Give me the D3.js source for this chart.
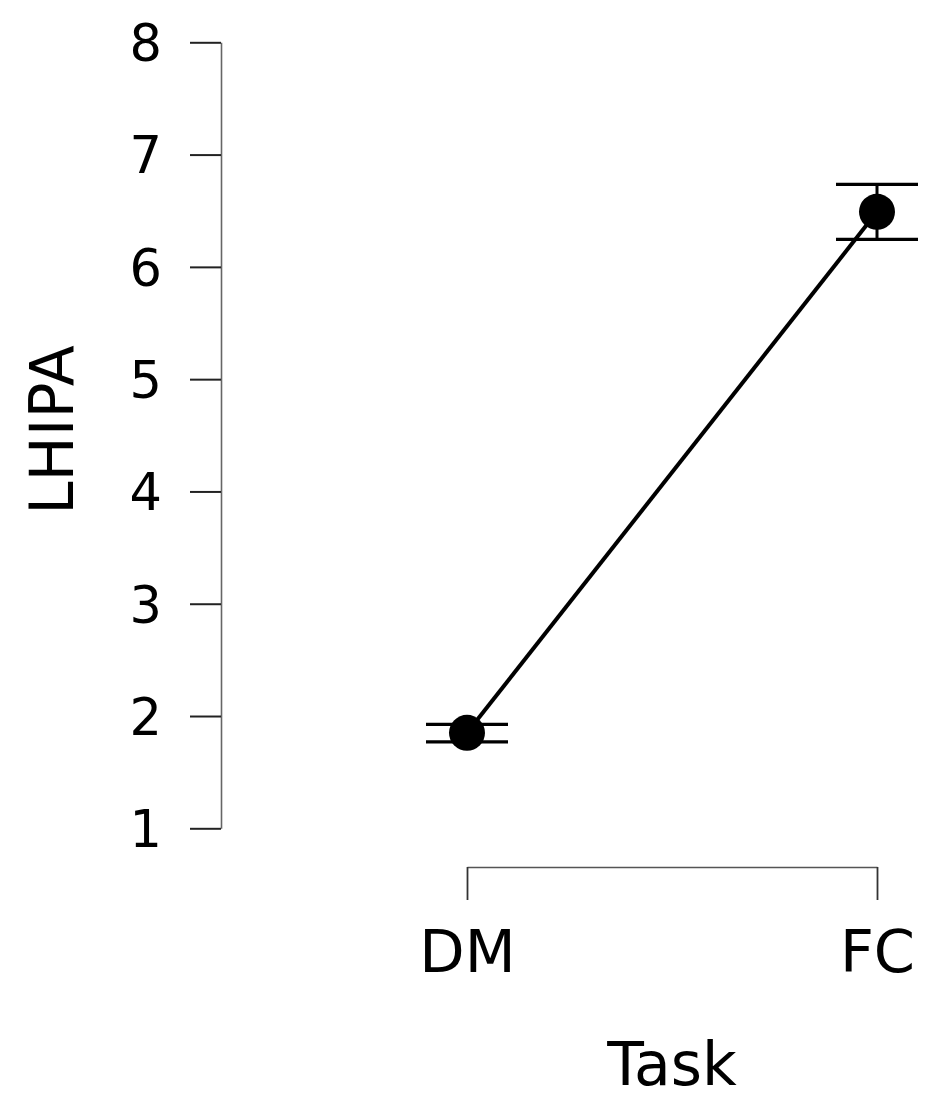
<!DOCTYPE html>
<html>
<head>
<meta charset="utf-8">
<script src="https://cdn.jsdelivr.net/npm/d3@7"></script>
<style>
  body { margin: 0; background: #fff; }
  text { font-family: "DejaVu Sans", sans-serif; fill: #000; }
</style>
</head>
<body>
<div id="chart"></div>
<script>
// data
var tasks = ["DM", "FC"];
var means = [1.85, 6.49];
var lower = [1.77, 6.245];
var upper = [1.926, 6.735];
var yTicks = [1, 2, 3, 4, 5, 6, 7, 8];

var svgWidth = 937;
var svgHeight = 1108;

var svg = d3.select("#chart")
  .append("svg")
  .attr("width", svgWidth)
  .attr("height", svgHeight);

var x = d3.scalePoint()
  .domain(tasks)
  .range([467, 877]);

var y = d3.scaleLinear()
  .domain([1, 8])
  .range([828.3, 42.3]);

// y axis
var yAxis = svg.append("g")
  .attr("transform", "translate(221,0)")
  .call(d3.axisLeft(y)
    .tickValues(yTicks)
    .tickFormat(d3.format("d"))
    .tickSize(31)
    .tickSizeOuter(0)
    .tickPadding(28));

yAxis.select(".domain").attr("stroke", "#666").attr("stroke-width", 1.6);
yAxis.selectAll(".tick line").attr("stroke", "#222").attr("stroke-width", 2);
yAxis.selectAll(".tick text")
  .style("font-size", "51px")
  .attr("dy", "0.36em");

// x axis bracket
var xAxis = svg.append("g")
  .attr("transform", "translate(0,867)")
  .call(d3.axisBottom(x).tickSize(33).tickSizeOuter(0));

xAxis.select(".domain").attr("stroke", "#555").attr("stroke-width", 1.6);
xAxis.selectAll(".tick line").attr("stroke", "#333").attr("stroke-width", 1.8);
xAxis.selectAll(".tick text")
  .style("font-size", "59px")
  .attr("y", 105)
  .attr("dy", null);

// axis titles
svg.append("text")
  .attr("x", 672)
  .attr("y", 1085)
  .attr("text-anchor", "middle")
  .style("font-size", "60px")
  .text("Task");

svg.append("text")
  .attr("transform", "translate(73,430) rotate(-90)")
  .attr("text-anchor", "middle")
  .style("font-size", "60px")
  .text("LHIPA");

// line connecting means
var line = d3.line()
  .x(function(d, i) { return x(tasks[i]); })
  .y(function(d) { return y(d); });

svg.append("path")
  .datum(means)
  .attr("d", line)
  .attr("fill", "none")
  .attr("stroke", "#000")
  .attr("stroke-width", 4);

// error bars
var capHalf = 41;
var bars = svg.selectAll(".errbar")
  .data(tasks)
  .enter()
  .append("g")
  .attr("class", "errbar");

bars.append("line")
  .attr("x1", d => x(d))
  .attr("x2", d => x(d))
  .attr("y1", (d, i) => y(lower[i]))
  .attr("y2", (d, i) => y(upper[i]))
  .attr("stroke", "#000")
  .attr("stroke-width", 3);

bars.append("line")
  .attr("x1", d => x(d) - capHalf)
  .attr("x2", d => x(d) + capHalf)
  .attr("y1", (d, i) => y(lower[i]))
  .attr("y2", (d, i) => y(lower[i]))
  .attr("stroke", "#000")
  .attr("stroke-width", 3.2);

bars.append("line")
  .attr("x1", d => x(d) - capHalf)
  .attr("x2", d => x(d) + capHalf)
  .attr("y1", (d, i) => y(upper[i]))
  .attr("y2", (d, i) => y(upper[i]))
  .attr("stroke", "#000")
  .attr("stroke-width", 3.2);

// points
svg.selectAll(".pt")
  .data(tasks)
  .enter()
  .append("circle")
  .attr("class", "pt")
  .attr("cx", d => x(d))
  .attr("cy", (d, i) => y(means[i]))
  .attr("r", 18)
  .attr("fill", "#000");
</script>
</body>
</html>
